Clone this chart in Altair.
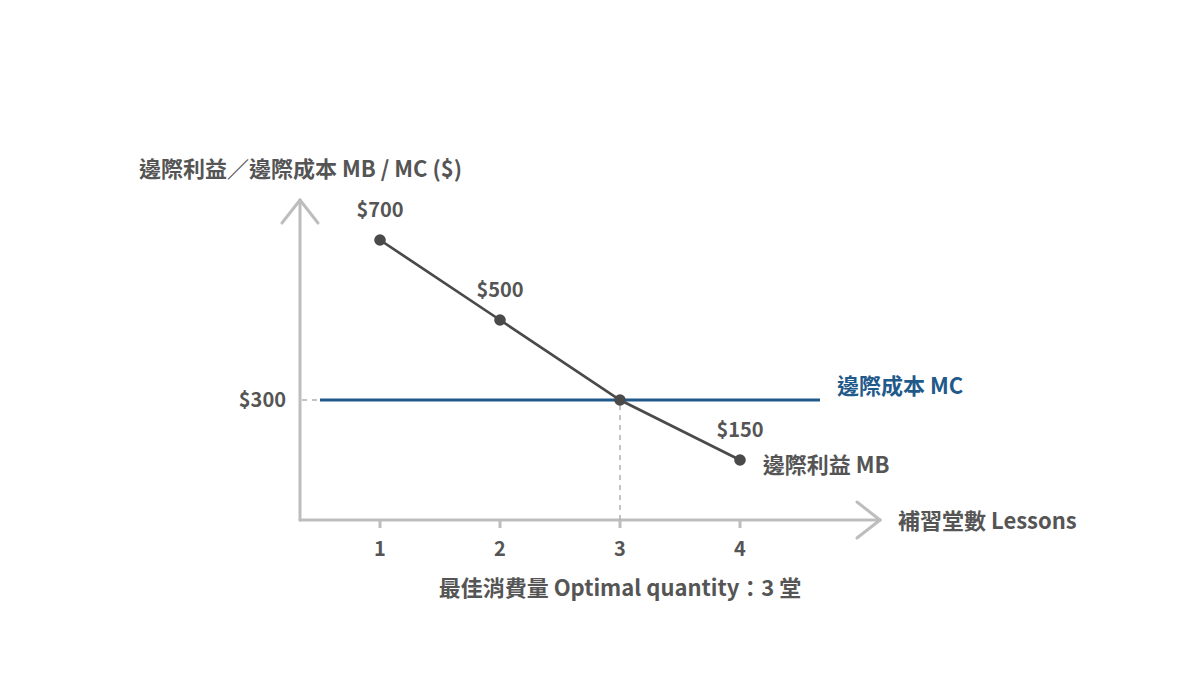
import altair as alt
import pandas as pd

# ---- data ----
lessons = [1, 2, 3, 4]
marginal_benefit = [700, 500, 300, 150]
benefit_labels = ["$700", "$500", "", "$150"]
marginal_cost = 300
optimal_q = 3
tick_values = [1, 2, 3, 4]
tick_labels = ["1", "2", "3", "4"]

FONT = "Noto Sans CJK TC"
GRAY_AXIS = "#bdbdbd"
DARK = "#4a4a4a"
TEXT = "#555555"
BLUE = "#1f5a8a"

# scales: x 1..4 -> page 380..740 ; y 0..800 -> page 520..200 (plot coords = page - 8)
xs = alt.Scale(domain=[1, 4], range=[372, 732])
ys = alt.Scale(domain=[0, 800], range=[512, 192])

X_AXIS_START, X_AXIS_END = 1/3, 5.1667
Y_AXIS_TOP = 800

def X(field="x"):
    return alt.X(f"{field}:Q", scale=xs, axis=None)

def Y(field="y"):
    return alt.Y(f"{field}:Q", scale=ys, axis=None)

mb = pd.DataFrame({"x": lessons, "y": marginal_benefit, "label": benefit_labels})

# axis lines and arrow heads (segments)
segs = pd.DataFrame({
    "x":  [X_AXIS_START, X_AXIS_START, 4.975, 4.975, 0.1833, 0.4833],
    "y":  [0, 0, 45, -45, 742.5, 742.5],
    "x2": [X_AXIS_END, X_AXIS_START, X_AXIS_END, X_AXIS_END, X_AXIS_START, X_AXIS_START],
    "y2": [0, Y_AXIS_TOP, 0, 0, Y_AXIS_TOP, Y_AXIS_TOP],
})
axes = alt.Chart(segs).mark_rule(color=GRAY_AXIS, strokeWidth=3, strokeCap="round").encode(
    x=X(), y=Y(), x2="x2:Q", y2="y2:Q")

ticks_df = pd.DataFrame({"x": tick_values, "label": tick_labels, "y": [0]*4, "y2": [-20]*4})
ticks = alt.Chart(ticks_df).mark_rule(color=GRAY_AXIS, strokeWidth=3).encode(
    x=X(), y=Y(), y2="y2:Q")
tick_text = alt.Chart(ticks_df).mark_text(
    font=FONT, fontWeight="bold", fontSize=20, color=TEXT, dy=30, baseline="middle"
).encode(x=X(), y=Y(), text="label:N")

# dashed guides
guides = pd.DataFrame({
    "x": [0.35, optimal_q], "y": [marginal_cost, 0],
    "x2": [0.5, optimal_q], "y2": [marginal_cost, marginal_cost],
})
guide = alt.Chart(guides).mark_rule(color="#b0b0b0", strokeWidth=1.5, strokeDash=[5, 5]).encode(
    x=X(), y=Y(), x2="x2:Q", y2="y2:Q")

# MC line
mc_df = pd.DataFrame({"x": [0.5], "x2": [4.6667], "y": [marginal_cost]})
mc = alt.Chart(mc_df).mark_rule(color=BLUE, strokeWidth=3).encode(x=X(), x2="x2:Q", y=Y())

mc_tick = alt.Chart(pd.DataFrame({"x": [X_AXIS_START], "y": [marginal_cost], "t": ["$300"]})).mark_text(
    font=FONT, fontWeight="bold", fontSize=20, color=TEXT, align="right", dx=-14, dy=1, baseline="middle"
).encode(x=X(), y=Y(), text="t:N")

# MB line and points
mb_line = alt.Chart(mb).mark_line(color=DARK, strokeWidth=2.7).encode(x=X(), y=Y())
mb_pts = alt.Chart(mb).mark_circle(color=DARK, size=135, opacity=1).encode(x=X(), y=Y())
mb_lbl = alt.Chart(mb).mark_text(
    font=FONT, fontWeight="bold", fontSize=20, color=TEXT, dy=-29, baseline="middle"
).encode(x=X(), y=Y(), text="label:N")

# annotations
ann = pd.DataFrame({
    "x": [-1.008, 4.808, 4.19, 5.317, 3.0],
    "y": [880, 337.5, 140, 0, -167.5],
    "t": ["邊際利益／邊際成本 MB / MC ($)", "邊際成本 MC", "邊際利益 MB", "補習堂數 Lessons",
          "最佳消費量 Optimal quantity：3 堂"],
    "al": ["left", "left", "left", "left", "center"],
    "color": [TEXT, BLUE, TEXT, TEXT, TEXT],
})
ann_left = alt.Chart(ann[ann["al"] == "left"]).mark_text(
    font=FONT, fontWeight="bold", fontSize=22, align="left", baseline="middle", dy=2
).encode(x=X(), y=Y(), text="t:N", color=alt.Color("color:N", scale=None))
ann_center = alt.Chart(ann[ann["al"] == "center"]).mark_text(
    font=FONT, fontWeight="bold", fontSize=22, align="center", baseline="middle", dy=2
).encode(x=X(), y=Y(), text="t:N", color=alt.Color("color:N", scale=None))

chart = alt.layer(
    axes, ticks, tick_text, guide, mc, mc_tick, mb_line, mb_pts, mb_lbl, ann_left, ann_center
).properties(
    width=1184, height=684, padding=0, autosize=alt.AutoSizeParams(type="none"), background="white"
).configure_view(stroke=None)

chart.save("out.html", embed_options={"renderer": "svg", "actions": False})
